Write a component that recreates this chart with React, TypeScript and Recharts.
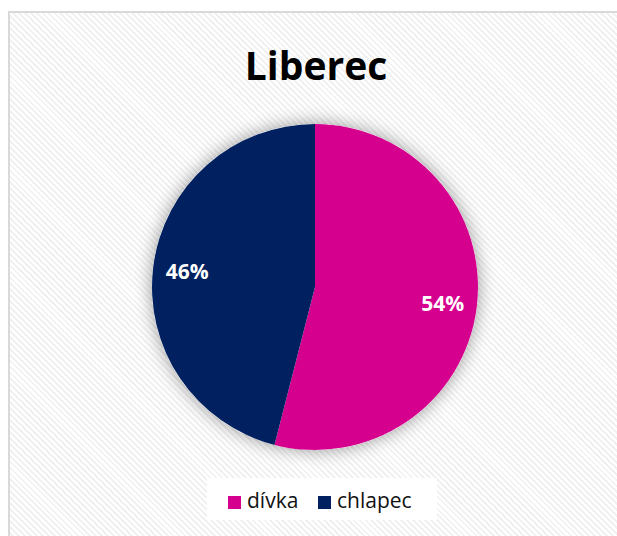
import React from 'react';
import { PieChart, Pie, Cell } from 'recharts';

const categories = ['dívka', 'chlapec'];
const shares = [54, 46];
const colors = ['#D6008F', '#002060'];

const data = categories.map((name, i) => ({ name, value: shares[i] }));

const RADIAN = Math.PI / 180;

const renderLabel = (props: any) => {
  const { cx, cy, midAngle, outerRadius, value } = props;
  const r = outerRadius * 0.79;
  const x = cx + r * Math.cos(-midAngle * RADIAN);
  const y = cy + r * Math.sin(-midAngle * RADIAN);
  return (
    <text
      x={x}
      y={y}
      fill="#ffffff"
      textAnchor="middle"
      dominantBaseline="central"
      fontFamily="'Open Sans', sans-serif"
      fontWeight={700}
      fontSize={21}
    >
      {`${value}%`}
    </text>
  );
};

export default function App() {
  return (
    <div style={{ position: 'fixed', left: 0, top: 0, width: 617, height: 536, background: '#fff', overflow: 'hidden' }}>
      <div
        style={{
          position: 'absolute',
          left: 8,
          top: 11,
          width: 640,
          height: 560,
          border: '2px solid #d9d9d9',
          backgroundColor: '#ffffff',
          backgroundImage:
            'repeating-linear-gradient(45deg, #ffffff 0px, #ffffff 2.2px, #f1f1f1 2.2px, #f1f1f1 4.2px)',
        }}
      />
      <div
        style={{
          position: 'absolute',
          left: 0,
          width: 632,
          top: 38,
          textAlign: 'center',
          fontFamily: "'Open Sans', sans-serif",
          fontWeight: 700,
          fontSize: 39,
          color: '#000',
          lineHeight: '54px',
        }}
      >
        Liberec
      </div>
      <div style={{ position: 'absolute', left: 0, top: 0 }}>
        <PieChart width={617} height={536} margin={{ top: 0, right: 0, bottom: 0, left: 0 }}>
          <defs>
            <filter id="pieShadow" x="-30%" y="-30%" width="160%" height="160%">
              <feGaussianBlur in="SourceAlpha" stdDeviation="9" />
              <feComponentTransfer>
                <feFuncA type="linear" slope="0.4" />
              </feComponentTransfer>
              <feMerge>
                <feMergeNode />
                <feMergeNode in="SourceGraphic" />
              </feMerge>
            </filter>
          </defs>
          <Pie
            data={[{ name: 'shadow', value: 1 }]}
            dataKey="value"
            cx={315}
            cy={287}
            outerRadius={163}
            isAnimationActive={false}
            legendType="none"
            stroke="none"
          >
            <Cell fill="#ffffff" filter="url(#pieShadow)" />
          </Pie>
          <Pie
            data={data}
            dataKey="value"
            nameKey="name"
            cx={315}
            cy={287}
            outerRadius={163}
            startAngle={90}
            endAngle={-270}
            stroke="none"
            labelLine={false}
            label={renderLabel}
            isAnimationActive={false}
          >
            {data.map((d, i) => (
              <Cell key={d.name} fill={colors[i]} />
            ))}
          </Pie>
        </PieChart>
      </div>
      <div
        style={{
          position: 'absolute',
          left: 207,
          top: 478,
          width: 230,
          height: 42,
          background: '#ffffff',
          fontFamily: "'Open Sans', sans-serif",
          fontSize: 21,
          color: '#111',
        }}
      >
        {categories.map((c, i) => (
          <div
            key={c}
            style={{ position: 'absolute', left: i === 0 ? 21 : 111, top: 18, width: 13, height: 13, background: colors[i] }}
          />
        ))}
        {categories.map((c, i) => (
          <div
            key={c + 't'}
            style={{ position: 'absolute', left: i === 0 ? 40 : 130, top: 8, lineHeight: '28px' }}
          >
            {c}
          </div>
        ))}
      </div>
    </div>
  );
}
